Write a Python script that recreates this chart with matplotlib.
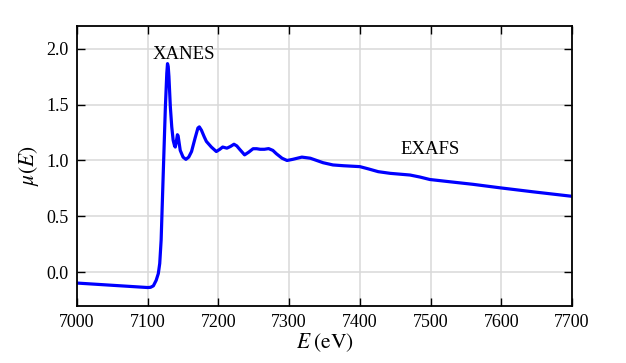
import matplotlib
matplotlib.use("Agg")
import matplotlib.pyplot as plt

plt.rcParams['font.family'] = ['Liberation Serif', 'DejaVu Serif']
plt.rcParams['mathtext.fontset'] = 'stix'

energy = [7000, 7050, 7100, 7104, 7108, 7112, 7115, 7117, 7119, 7122, 7125, 7127, 7128, 7129,
          7130, 7132, 7134, 7136, 7138, 7139, 7140, 7142, 7143, 7146, 7150, 7154, 7158, 7162,
          7167, 7171, 7173, 7176, 7180, 7183, 7190, 7197, 7202, 7206, 7212, 7217, 7222, 7226,
          7230, 7237, 7243, 7249, 7254, 7259, 7265, 7271, 7277, 7282, 7290, 7297, 7305, 7318,
          7330, 7348, 7362, 7377, 7400, 7412, 7426, 7443, 7471, 7485, 7499, 7527, 7560, 7598,
          7645, 7700]
mu = [-0.095, -0.115, -0.135, -0.133, -0.12, -0.07, -0.01, 0.08, 0.29, 0.89, 1.48, 1.78, 1.865, 1.84,
      1.75, 1.48, 1.30, 1.18, 1.13, 1.12, 1.15, 1.23, 1.22, 1.09, 1.03, 1.01, 1.03, 1.08,
      1.20, 1.29, 1.30, 1.27, 1.21, 1.17, 1.12, 1.08, 1.10, 1.12, 1.11, 1.125, 1.145, 1.13,
      1.10, 1.05, 1.075, 1.105, 1.105, 1.10, 1.10, 1.106, 1.09, 1.06, 1.02, 1.0, 1.01, 1.03,
      1.02, 0.98, 0.96, 0.953, 0.945, 0.925, 0.90, 0.885, 0.87, 0.852, 0.83, 0.81, 0.787, 0.756,
      0.72, 0.68]

xticks = [7000, 7100, 7200, 7300, 7400, 7500, 7600, 7700]
yticks = [0.0, 0.5, 1.0, 1.5, 2.0]

fig = plt.figure(figsize=(6.26, 3.63), dpi=100)
ax = fig.add_axes([0.123, 0.157, 0.7907, 0.771])
ax.plot(energy, mu, color='#0000ff', lw=2.3, solid_joinstyle='round', solid_capstyle='round')
ax.set_xlim(7000, 7700)
ax.set_ylim(-0.3, 2.2)
ax.set_xticks(xticks)
ax.set_yticks(yticks)
ax.set_yticklabels([f"{v:.1f}" for v in yticks])
ax.grid(True, color='#d9d9d9', lw=1.1)
ax.set_axisbelow(True)
ax.tick_params(direction='in', length=6, width=1.0, top=True, right=True, labelsize=13, pad=6)
for s in ax.spines.values():
    s.set_linewidth(1.3)
ax.set_xlabel(r'$E\;(\mathrm{eV})$', fontsize=15.5, labelpad=0)
ax.set_ylabel(r'$\mu(E)$', fontsize=15.5, labelpad=4)
ax.text(7151, 1.946, 'XANES', fontsize=13.5, ha='center', va='center')
ax.text(7499, 1.094, 'EXAFS', fontsize=13.5, ha='center', va='center')
fig.savefig('out.png', dpi=100)
